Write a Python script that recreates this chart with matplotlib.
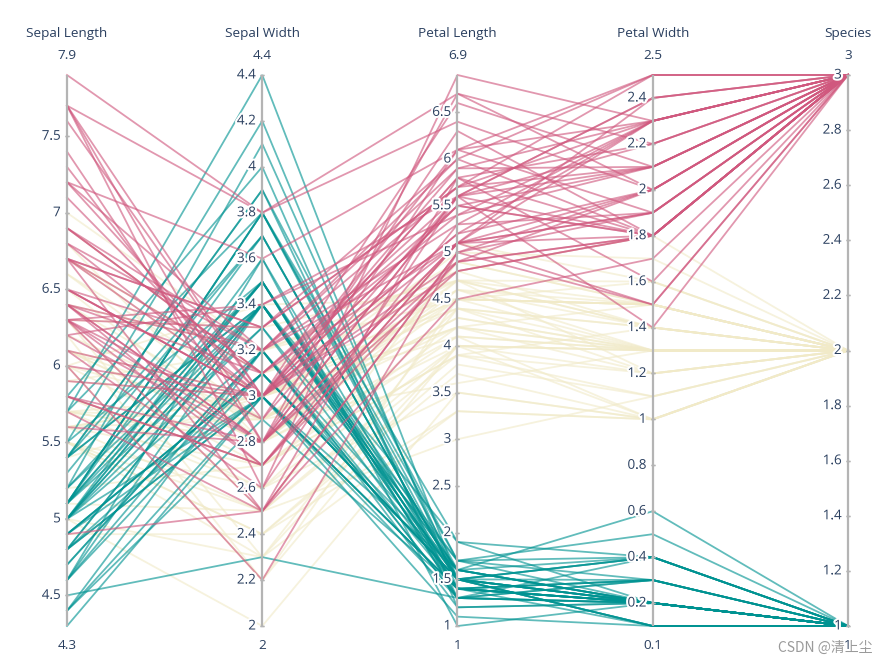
import matplotlib.pyplot as plt
import matplotlib.patheffects as pe
import numpy as np

plt.rcParams['font.family'] = ['Open Sans', 'Noto Sans CJK SC', 'DejaVu Sans']

# iris 数据
sepal_length = [5.1, 4.9, 4.7, 4.6, 5.0, 5.4, 4.6, 5.0, 4.4, 4.9, 5.4, 4.8, 4.8, 4.3, 5.8, 5.7, 5.4, 5.1, 5.7, 5.1,
                5.4, 5.1, 4.6, 5.1, 4.8, 5.0, 5.0, 5.2, 5.2, 4.7, 4.8, 5.4, 5.2, 5.5, 4.9, 5.0, 5.5, 4.9, 4.4, 5.1,
                5.0, 4.5, 4.4, 5.0, 5.1, 4.8, 5.1, 4.6, 5.3, 5.0,
                7.0, 6.4, 6.9, 5.5, 6.5, 5.7, 6.3, 4.9, 6.6, 5.2, 5.0, 5.9, 6.0, 6.1, 5.6, 6.7, 5.6, 5.8, 6.2, 5.6,
                5.9, 6.1, 6.3, 6.1, 6.4, 6.6, 6.8, 6.7, 6.0, 5.7, 5.5, 5.5, 5.8, 6.0, 5.4, 6.0, 6.7, 6.3, 5.6, 5.5,
                5.5, 6.1, 5.8, 5.0, 5.6, 5.7, 5.7, 6.2, 5.1, 5.7,
                6.3, 5.8, 7.1, 6.3, 6.5, 7.6, 4.9, 7.3, 6.7, 7.2, 6.5, 6.4, 6.8, 5.7, 5.8, 6.4, 6.5, 7.7, 7.7, 6.0,
                6.9, 5.6, 7.7, 6.3, 6.7, 7.2, 6.2, 6.1, 6.4, 7.2, 7.4, 7.9, 6.4, 6.3, 6.1, 7.7, 6.3, 6.4, 6.0, 6.9,
                6.7, 6.9, 5.8, 6.8, 6.7, 6.7, 6.3, 6.5, 6.2, 5.9]
sepal_width = [3.5, 3.0, 3.2, 3.1, 3.6, 3.9, 3.4, 3.4, 2.9, 3.1, 3.7, 3.4, 3.0, 3.0, 4.0, 4.4, 3.9, 3.5, 3.8, 3.8,
               3.4, 3.7, 3.6, 3.3, 3.4, 3.0, 3.4, 3.5, 3.4, 3.2, 3.1, 3.4, 4.1, 4.2, 3.1, 3.2, 3.5, 3.1, 3.0, 3.4,
               3.5, 2.3, 3.2, 3.5, 3.8, 3.0, 3.8, 3.2, 3.7, 3.3,
               3.2, 3.2, 3.1, 2.3, 2.8, 2.8, 3.3, 2.4, 2.9, 2.7, 2.0, 3.0, 2.2, 2.9, 2.9, 3.1, 3.0, 2.7, 2.2, 2.5,
               3.2, 2.8, 2.5, 2.8, 2.9, 3.0, 2.8, 3.0, 2.9, 2.6, 2.4, 2.4, 2.7, 2.7, 3.0, 3.4, 3.1, 2.3, 3.0, 2.5,
               2.6, 3.0, 2.6, 2.3, 2.7, 3.0, 2.9, 2.9, 2.5, 2.8,
               3.3, 2.7, 3.0, 2.9, 3.0, 3.0, 2.5, 2.9, 2.5, 3.6, 3.2, 2.7, 3.0, 2.5, 2.8, 3.2, 3.0, 3.8, 2.6, 2.2,
               3.2, 2.8, 2.8, 2.7, 3.3, 3.2, 2.8, 3.0, 2.8, 3.0, 2.8, 3.8, 2.8, 2.8, 2.6, 3.0, 3.4, 3.1, 3.0, 3.1,
               3.1, 3.1, 2.7, 3.2, 3.3, 3.0, 2.5, 3.0, 3.4, 3.0]
petal_length = [1.4, 1.4, 1.3, 1.5, 1.4, 1.7, 1.4, 1.5, 1.4, 1.5, 1.5, 1.6, 1.4, 1.1, 1.2, 1.5, 1.3, 1.4, 1.7, 1.5,
                1.7, 1.5, 1.0, 1.7, 1.9, 1.6, 1.6, 1.5, 1.4, 1.6, 1.6, 1.5, 1.5, 1.4, 1.5, 1.2, 1.3, 1.5, 1.3, 1.5,
                1.3, 1.3, 1.3, 1.6, 1.9, 1.4, 1.6, 1.4, 1.5, 1.4,
                4.7, 4.5, 4.9, 4.0, 4.6, 4.5, 4.7, 3.3, 4.6, 3.9, 3.5, 4.2, 4.0, 4.7, 3.6, 4.4, 4.5, 4.1, 4.5, 3.9,
                4.8, 4.0, 4.9, 4.7, 4.3, 4.4, 4.8, 5.0, 4.5, 3.5, 3.8, 3.7, 3.9, 5.1, 4.5, 4.5, 4.7, 4.4, 4.1, 4.0,
                4.4, 4.6, 4.0, 3.3, 4.2, 4.2, 4.2, 4.3, 3.0, 4.1,
                6.0, 5.1, 5.9, 5.6, 5.8, 6.6, 4.5, 6.3, 5.8, 6.1, 5.1, 5.3, 5.5, 5.0, 5.1, 5.3, 5.5, 6.7, 6.9, 5.0,
                5.7, 4.9, 6.7, 4.9, 5.7, 6.0, 4.8, 4.9, 5.6, 5.8, 6.1, 6.4, 5.6, 5.1, 5.6, 6.1, 5.6, 5.5, 4.8, 5.4,
                5.6, 5.1, 5.1, 5.9, 5.7, 5.2, 5.0, 5.2, 5.4, 5.1]
petal_width = [0.2, 0.2, 0.2, 0.2, 0.2, 0.4, 0.3, 0.2, 0.2, 0.1, 0.2, 0.2, 0.1, 0.1, 0.2, 0.4, 0.4, 0.3, 0.3, 0.3,
               0.2, 0.4, 0.2, 0.5, 0.2, 0.2, 0.4, 0.2, 0.2, 0.2, 0.2, 0.4, 0.1, 0.2, 0.1, 0.2, 0.2, 0.1, 0.2, 0.2,
               0.3, 0.3, 0.2, 0.6, 0.4, 0.3, 0.2, 0.2, 0.2, 0.2,
               1.4, 1.5, 1.5, 1.3, 1.5, 1.3, 1.6, 1.0, 1.3, 1.4, 1.0, 1.5, 1.0, 1.4, 1.3, 1.4, 1.5, 1.0, 1.5, 1.1,
               1.8, 1.3, 1.5, 1.2, 1.3, 1.4, 1.4, 1.7, 1.5, 1.0, 1.1, 1.0, 1.2, 1.6, 1.5, 1.6, 1.5, 1.3, 1.3, 1.3,
               1.2, 1.4, 1.2, 1.0, 1.3, 1.2, 1.3, 1.3, 1.1, 1.3,
               2.5, 1.9, 2.1, 1.8, 2.2, 2.1, 1.7, 1.8, 1.8, 2.5, 2.0, 1.9, 2.1, 2.0, 2.4, 2.3, 1.8, 2.2, 2.3, 1.5,
               2.3, 2.0, 2.0, 1.8, 2.1, 1.8, 1.8, 1.8, 2.1, 1.6, 1.9, 2.0, 2.2, 1.5, 1.4, 2.3, 2.4, 1.8, 1.8, 2.1,
               2.4, 2.3, 1.9, 2.3, 2.5, 2.3, 1.9, 2.0, 2.3, 1.8]
species_id = [1] * 50 + [2] * 50 + [3] * 50

dim_names = ['Sepal Length', 'Sepal Width', 'Petal Length', 'Petal Width', 'Species']
dim_ticks = [
    [4.5, 5, 5.5, 6, 6.5, 7, 7.5],
    [2, 2.2, 2.4, 2.6, 2.8, 3, 3.2, 3.4, 3.6, 3.8, 4, 4.2, 4.4],
    [1, 1.5, 2, 2.5, 3, 3.5, 4, 4.5, 5, 5.5, 6, 6.5],
    [0.2, 0.4, 0.6, 0.8, 1, 1.2, 1.4, 1.6, 1.8, 2, 2.2, 2.4],
    [1, 1.2, 1.4, 1.6, 1.8, 2, 2.2, 2.4, 2.6, 2.8, 3],
]

# tealrose 色带的两端和中间
species_colors = {1: '#009392', 2: '#f1eac8', 3: '#d0587e'}

text_color = '#2a3f5f'
halo = [pe.withStroke(linewidth=3, foreground='white')]


def fmt(v):
    return ('%g' % v)


data = np.array([sepal_length, sepal_width, petal_length, petal_width, species_id], dtype=float)
lo = data.min(axis=1)
hi = data.max(axis=1)
norm = (data - lo[:, None]) / (hi - lo)[:, None]

fig = plt.figure(figsize=(8.79, 6.64), dpi=100)
ax = fig.add_axes([67 / 879, 1 - 626 / 664, (848 - 67) / 879, (626 - 75) / 664])
ax.set_xlim(0, 4)
ax.set_ylim(0, 1)
ax.axis('off')

xs = np.arange(5)
# 按类别画线
for sp in [2, 1, 3]:
    for i in range(norm.shape[1]):
        if species_id[i] != sp:
            continue
        ax.plot(xs, norm[:, i], color=species_colors[sp], alpha=0.62, lw=1.3, zorder=2,
                solid_joinstyle='miter', clip_on=False)

fs = 9.7
for k, name in enumerate(dim_names):
    ax.plot([k, k], [0, 1], color='#b4b4b4', lw=1.6, zorder=3, solid_capstyle='butt', clip_on=False)
    ax.annotate(name, (k, 1), xytext=(0, 30), textcoords='offset points',
                ha='center', va='center', fontsize=fs, color=text_color)
    ax.annotate(fmt(hi[k]), (k, 1), xytext=(0, 13.7), textcoords='offset points',
                ha='center', va='center', fontsize=fs, color=text_color)
    ax.annotate(fmt(lo[k]), (k, 0), xytext=(0, -13.7), textcoords='offset points',
                ha='center', va='center', fontsize=fs, color=text_color)
    for t in dim_ticks[k]:
        yy = (t - lo[k]) / (hi[k] - lo[k])
        ax.plot([k, k], [yy, yy], marker=(2, 0, 90), ms=3.5, mew=1, color='#b4b4b4', zorder=3,
                clip_on=False)
        ax.annotate(fmt(t), (k, yy), xytext=(-4.5, 0), textcoords='offset points',
                    ha='right', va='center', fontsize=fs, color=text_color,
                    path_effects=halo, zorder=4)

fig.text(0.993, 0.024, 'CSDN @清上尘', ha='right', va='center', fontsize=10, color='#9a9a9a',
         family=['Noto Sans CJK SC', 'DejaVu Sans'])

fig.savefig('out.png', dpi=100)
